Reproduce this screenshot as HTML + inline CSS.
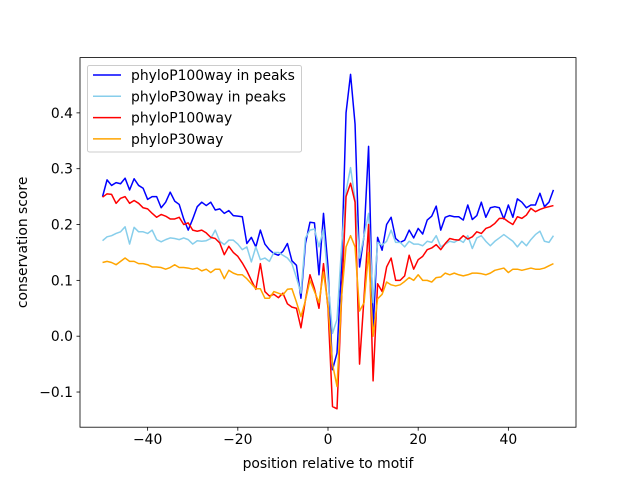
<!DOCTYPE html>
<html><head><meta charset="utf-8"><style>
html,body{margin:0;padding:0;background:#fff;}
svg{display:block;font-family:"DejaVu Sans","Liberation Sans",sans-serif;}
</style></head><body>
<svg id="chart" width="640" height="480" viewBox="0 0 640 480"></svg>
<script>
const positions = [];
for (let i = -50; i <= 50; i++) positions.push(i);
const seriesNames = ["phyloP100way in peaks","phyloP30way in peaks","phyloP100way","phyloP30way"];
const seriesColors = ["#0000ff","#87ceeb","#ff0000","#ffa500"];
const blueValues = [.25,.28,.27,.275,.273,.283,.262,.282,.27,.265,.245,.25,.25,.23,.24,.258,.242,.236,.21,.19,.21,.232,.24,.234,.24,.226,.228,.22,.225,.216,.215,.214,.166,.177,.16,.19,.165,.155,.148,.145,.152,.166,.135,.127,.068,.166,.204,.203,.11,.22,.124,-.06,-.03,.124,.40,.469,.38,.124,.18,.34,.01,.177,.154,.2,.213,.175,.168,.172,.19,.176,.193,.183,.208,.215,.233,.19,.213,.216,.214,.214,.208,.235,.209,.216,.24,.213,.23,.232,.23,.21,.235,.213,.246,.24,.23,.235,.235,.256,.232,.24,.262];
const skyValues = [.171,.178,.18,.184,.187,.196,.165,.195,.187,.187,.184,.19,.173,.169,.173,.176,.175,.173,.176,.173,.165,.171,.17,.171,.175,.19,.17,.164,.172,.172,.165,.155,.16,.133,.16,.137,.14,.134,.15,.15,.145,.14,.13,.105,.077,.176,.19,.192,.16,.192,.1,.005,.03,.16,.26,.302,.245,.14,.18,.22,.06,.168,.163,.17,.19,.168,.168,.16,.17,.165,.165,.162,.17,.168,.18,.16,.165,.17,.168,.173,.168,.18,.157,.176,.18,.17,.162,.17,.176,.182,.176,.17,.16,.17,.162,.173,.182,.188,.17,.168,.18];
const redValues = [.249,.255,.254,.238,.247,.25,.238,.243,.238,.23,.228,.22,.213,.218,.215,.21,.21,.213,.2,.203,.19,.188,.19,.185,.177,.175,.167,.146,.161,.15,.143,.131,.117,.1,.084,.13,.08,.072,.075,.069,.077,.058,.052,.05,.015,.065,.11,.085,.05,.13,.05,-.126,-.13,.066,.25,.274,.24,-.05,.07,.2,-.08,.094,.08,.124,.14,.1,.1,.108,.145,.12,.137,.143,.155,.158,.164,.155,.166,.175,.173,.172,.18,.174,.178,.187,.184,.193,.196,.202,.211,.211,.205,.2,.214,.211,.217,.229,.223,.227,.23,.232,.234];
const orangeValues = [.132,.134,.132,.128,.134,.14,.134,.134,.13,.13,.128,.124,.124,.123,.12,.123,.128,.123,.123,.122,.12,.122,.117,.12,.114,.12,.12,.103,.118,.113,.11,.11,.103,.094,.085,.085,.068,.068,.08,.077,.074,.084,.085,.061,.035,.064,.1,.08,.06,.115,.055,-.05,-.09,.07,.16,.18,.16,.045,.06,.15,.0,.067,.075,.097,.092,.09,.092,.098,.105,.1,.11,.1,.1,.097,.105,.106,.113,.11,.113,.11,.108,.11,.113,.113,.112,.11,.113,.118,.12,.122,.114,.12,.12,.118,.12,.122,.12,.12,.122,.126,.13];
const xTicks = [-40,-20,0,20,40];
const yTicks = [-0.1,0.0,0.1,0.2,0.3,0.4];
const yTickLabels = ["\u22120.1","0.0","0.1","0.2","0.3","0.4"];
const xTickLabels = ["\u221240","\u221220","0","20","40"];

const L=80,R=576,T=57.6,B=427.2;
const xMin=-55,xMax=55,yMin=-0.163,yMax=0.499;
const xs=v=>L+(v-xMin)/(xMax-xMin)*(R-L);
const ys=v=>B-(v-yMin)/(yMax-yMin)*(B-T);
const svg=document.getElementById('chart');
const NS="http://www.w3.org/2000/svg";
function mk(tag,attrs,parent){const e=document.createElementNS(NS,tag);for(const k in attrs)e.setAttribute(k,attrs[k]);(parent||svg).appendChild(e);return e;}

const allSeries=[blueValues,skyValues,redValues,orangeValues];
const seriesKeys=["line-phylop100way-peaks","line-phylop30way-peaks","line-phylop100way","line-phylop30way"];
const plot=mk('g',{});


allSeries.forEach((vals,si)=>{
  const d=vals.map((v,i)=>(i?'L':'M')+xs(positions[i]).toFixed(2)+' '+ys(v).toFixed(2)).join(' ');
  const p=mk('path',{d:d,fill:'none',stroke:seriesColors[si],'stroke-width':1.5,'stroke-linejoin':'round'},plot);
  
  
});

const frame=mk('rect',{x:L,y:T,width:R-L,height:B-T,fill:'none',stroke:'#000','stroke-width':0.8});



const xAxis=mk('g',{});


xTicks.forEach((t,i)=>{
  const x=xs(t);
  mk('line',{x1:x,x2:x,y1:B,y2:B+3.5,stroke:'#000','stroke-width':0.8},xAxis);
  const tx=mk('text',{x:x,y:B+17,'text-anchor':'middle','font-size':13.9,fill:'#000'},xAxis);
  tx.textContent=xTickLabels[i];
  
  
});
const yAxis=mk('g',{});


yTicks.forEach((t,i)=>{
  const y=ys(t);
  mk('line',{x1:L-3.5,x2:L,y1:y,y2:y,stroke:'#000','stroke-width':0.8},yAxis);
  const tx=mk('text',{x:L-7,y:y+5,'text-anchor':'end','font-size':13.9,fill:'#000'},yAxis);
  tx.textContent=yTickLabels[i];
  
  
});
const xt=mk('text',{x:(L+R)/2,y:468,'text-anchor':'middle','font-size':13.9});
xt.textContent='position relative to motif';


const yt=mk('text',{x:0,y:0,'text-anchor':'middle','font-size':13.9,transform:'translate(27,'+((T+B)/2)+') rotate(-90)'});
yt.textContent='conservation score';



const leg=mk('g',{});


mk('rect',{x:87.5,y:65.5,width:214,height:86.5,rx:2,fill:'#fff','fill-opacity':0.8,stroke:'#ccc','stroke-width':1},leg);
seriesNames.forEach((n,i)=>{
  const y=75+i*21.3;
  const e=mk('g',{},leg);
  
  
  mk('line',{x1:93,x2:121,y1:y,y2:y,stroke:seriesColors[i],'stroke-width':1.5},e);
  const t=mk('text',{x:131,y:y+5,'font-size':13.9},e);
  t.textContent=n;
});
</script>
</body></html>
